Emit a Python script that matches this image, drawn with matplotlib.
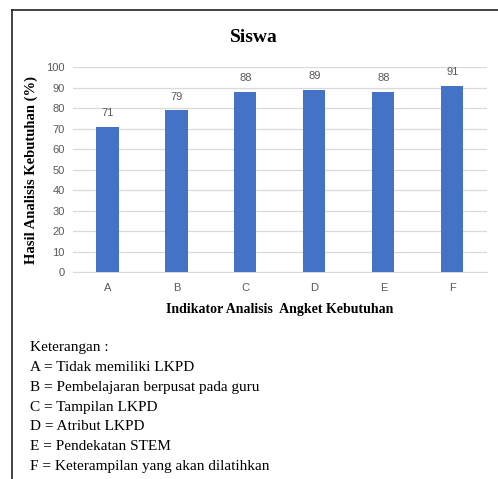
import matplotlib.pyplot as plt
from matplotlib.lines import Line2D

# data
categories = ['A', 'B', 'C', 'D', 'E', 'F']
values = [71, 79, 88, 89, 88, 91]
notes = [
    'Keterangan :',
    'A = Tidak memiliki LKPD',
    'B = Pembelajaran berpusat pada guru',
    'C = Tampilan LKPD',
    'D = Atribut LKPD',
    'E = Pendekatan STEM',
    'F = Keterampilan yang akan dilatihkan',
]

serif = 'Liberation Serif'
sans = 'Liberation Sans'
gray = '#595959'

fig = plt.figure(figsize=(4.98, 4.79), dpi=100)
ax = fig.add_axes([0.1466, 0.432, 0.831, 0.428])

x = range(len(categories))
bars = ax.bar(x, values, width=0.32, color='#4472C4', zorder=3)
ax.set_xlim(-0.5, len(categories) - 0.5)
ax.set_ylim(0, 100)
ax.set_yticks(range(0, 101, 10))
ax.set_xticks(list(x))
ax.set_xticklabels(categories)
ax.tick_params(length=0, labelsize=8, labelcolor=gray, pad=6)
for lab in ax.get_xticklabels() + ax.get_yticklabels():
    lab.set_fontfamily(sans)
ax.tick_params(axis='x', pad=8)
ax.grid(axis='y', color='#d9d9d9', linewidth=0.9, zorder=0)
for s in ['top', 'right', 'left']:
    ax.spines[s].set_visible(False)
ax.spines['bottom'].set_color('#d9d9d9')

for b, v in zip(bars, values):
    ax.annotate(str(v), (b.get_x() + b.get_width() / 2, v), xytext=(0, 6),
                textcoords='offset points', ha='center', va='bottom',
                fontsize=8, color=gray, family=sans)

ax.set_ylabel('Hasil Analisis Kebutuhan (%)', family=serif, fontweight='bold',
              fontsize=10.5, labelpad=6)
ax.set_xlabel('Indikator Analisis  Angket Kebutuhan', family=serif,
              fontweight='bold', fontsize=10, labelpad=7)
fig.text(0.51, 1 - 37 / 479, 'Siswa', family=serif, fontweight='bold',
         fontsize=14, ha='center', va='center')

# border of the box
fig.add_artist(Line2D([12 / 498, 1], [1 - 10 / 479] * 2, color='#222222',
                      lw=1.2, transform=fig.transFigure))
fig.add_artist(Line2D([12 / 498] * 2, [0, 1 - 10 / 479], color='#222222',
                      lw=1.2, transform=fig.transFigure))

for i, t in enumerate(notes):
    fig.text(30 / 498, 1 - (348 + i * 19.7) / 479, t, family=serif,
             fontsize=11, va='center', ha='left')

fig.savefig('out.png', dpi=100)
